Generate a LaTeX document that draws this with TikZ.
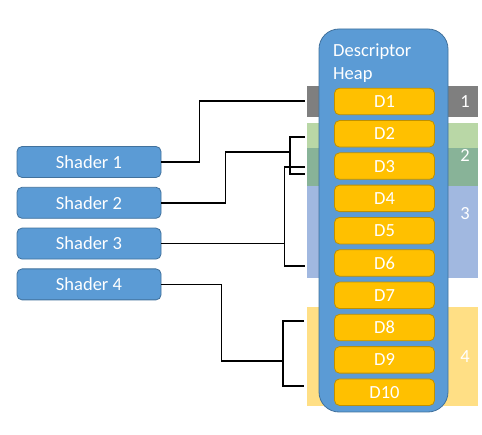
\documentclass[tikz,border=0pt]{standalone}
\usepackage{fontspec}
\setmainfont{Carlito}
\usepackage{xcolor}
\usetikzlibrary{positioning}
\definecolor{shaderblue}{HTML}{5B9BD5}
\definecolor{shaderedge}{HTML}{41719C}
\definecolor{descgold}{HTML}{FFC000}
\definecolor{descedge}{HTML}{BF9000}
\definecolor{bandgray}{HTML}{7F7F7F}
\definecolor{bandlgreen}{HTML}{B9D7A6}
\definecolor{banddgreen}{HTML}{88B398}
\definecolor{bandblue}{HTML}{A1B8E0}
\definecolor{bandyellow}{HTML}{FFDF85}

\begin{document}
\begin{tikzpicture}[x=1pt, y=-1pt, font=\fontsize{18.5}{23}\selectfont]
    \tikzstyle{shader} = [rectangle, rounded corners=5pt, draw=shaderedge, fill=shaderblue, line width=0.8pt, text=white, minimum width=144pt, minimum height=31pt, inner sep=0pt]
    \tikzstyle{desc} = [rectangle, rounded corners=5pt, draw=descedge, fill=descgold, line width=0.8pt, text=white, minimum width=100pt, minimum height=26.5pt, inner sep=0pt]
    \tikzstyle{heapbox} = [rectangle, rounded corners=20pt, draw=shaderedge, fill=shaderblue, line width=0.8pt, minimum width=129pt, minimum height=383pt]
    \tikzstyle{band} = [rectangle, inner sep=0pt, minimum width=171pt, anchor=north west]
    \tikzstyle{num} = [text=white, inner sep=0pt]
    \tikzstyle{wire} = [line width=1.5pt, black]

    \useasboundingbox (0,0) rectangle (482,435);

    % coloured ranges behind the heap
    \node (band1)  [band, fill=bandgray,   minimum height=31pt] at (307,86)  {};
    \node (band2a) [band, fill=bandlgreen, minimum height=25pt] at (307,123) {};
    \node (band2b) [band, fill=banddgreen, minimum height=38pt] at (307,148) {};
    \node (band3)  [band, fill=bandblue,   minimum height=92pt] at (307,186) {};
    \node (band4)  [band, fill=bandyellow, minimum height=99pt] at (307,307) {};

    \node (heap)  [heapbox] at (383.5,220.5) {};
    \node (title) [anchor=north west, align=left, inner sep=0pt, text=white] at (333,44) {Descriptor\\Heap};

    \node (d1)  [desc] at (384.5,101.5)    {D1};
    \node (d2)  [desc, below=5pt of d1]    {D2};
    \node (d3)  [desc, below=5pt of d2]    {D3};
    \node (d4)  [desc, below=5pt of d3]    {D4};
    \node (d5)  [desc, below=5pt of d4]    {D5};
    \node (d6)  [desc, below=5pt of d5]    {D6};
    \node (d7)  [desc, below=5pt of d6]    {D7};
    \node (d8)  [desc, below=5pt of d7]    {D8};
    \node (d9)  [desc, below=5pt of d8]    {D9};
    \node (d10) [desc, below=5pt of d9]    {D10};

    \node (n1) [num] at (465,102) {1};
    \node (n2) [num] at (465,156) {2};
    \node (n3) [num] at (465,214) {3};
    \node (n4) [num] at (465,357) {4};

    \node (s1) [shader] at (89,162)        {Shader 1};
    \node (s2) [shader, below=9pt of s1]   {Shader 2};
    \node (s3) [shader, below=9pt of s2]   {Shader 3};
    \node (s4) [shader, below=9pt of s3]   {Shader 4};

    % bracket ends and joints
    \coordinate (c1)  at (305,101);
    \coordinate (j2)  at (290,152);
    \coordinate (c2a) at (305,137);
    \coordinate (c2b) at (305,174);
    \path (s3.east) -- ++(123,0) coordinate (j3);
    \coordinate (c3a) at (305,167);
    \coordinate (c3b) at (305,266);
    \coordinate (j4)  at (283,361);
    \coordinate (c4a) at (304,321);
    \coordinate (c4b) at (304,386);

    \draw [wire] (s1.east) -- ++(38,0) |- (c1);
    \draw [wire] (s2.east) -- ++(64,0) |- (j2);
    \draw [wire] (c2a) -| (j2) |- (c2b);
    \draw [wire] (s3.east) -- (j3);
    \draw [wire] (c3a) -| (j3) |- (c3b);
    \draw [wire] (s4.east) -- ++(60,0) |- (j4);
    \draw [wire] (c4a) -| (j4) |- (c4b);
\end{tikzpicture}
\end{document}
